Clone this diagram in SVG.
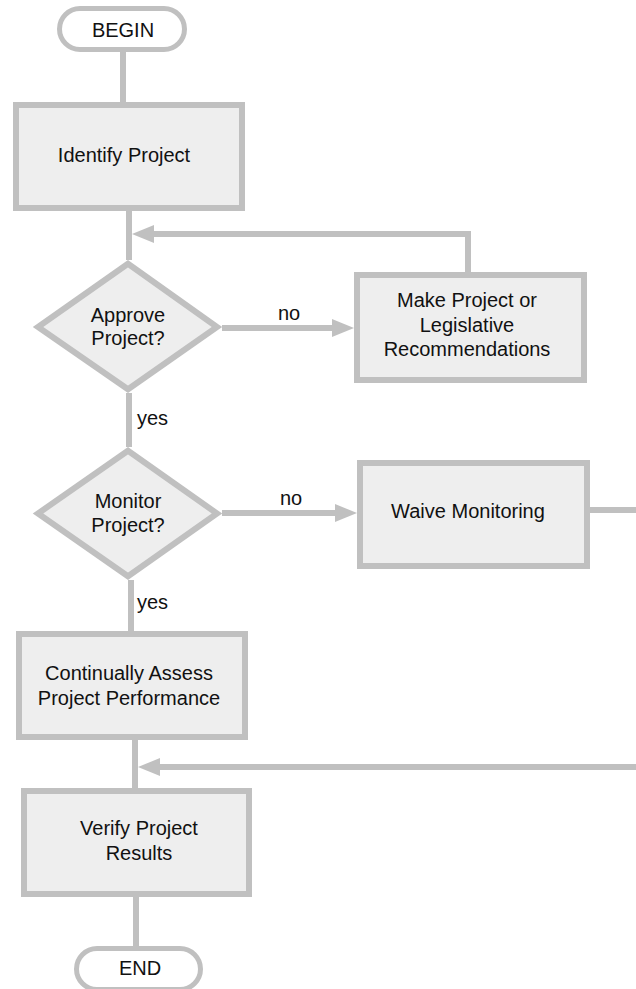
<svg xmlns="http://www.w3.org/2000/svg" width="636" height="989" viewBox="0 0 636 989">
<style>
.box{fill:#eeeeee;stroke:#c0c0c0;stroke-width:6}
.term{fill:#ffffff;stroke:#c0c0c0;stroke-width:5}
.ln{fill:none;stroke:#c0c0c0;stroke-width:6}
text{font-family:"Liberation Sans",Arial,sans-serif;font-size:20px;fill:#111111}
.c{text-anchor:middle}
</style>
<defs>
<marker id="arr" markerUnits="userSpaceOnUse" markerWidth="22" markerHeight="18" refX="14" refY="9" orient="auto">
<path d="M0,0 L22,9 L0,18 z" fill="#c0c0c0"/>
</marker>
</defs>
<rect width="636" height="989" fill="#ffffff"/>
<g id="connectors">
<path class="ln" d="M123,52 V102"/>
<path class="ln" d="M129,211 V260"/>
<path class="ln" d="M129,393 V447"/>
<path class="ln" d="M131,580 V632"/>
<path class="ln" d="M135,740 V788"/>
<path class="ln" d="M136,897 V946"/>
<path class="ln" d="M468,272 V234 H140" marker-end="url(#arr)"/>
<path class="ln" d="M222,328 H346" marker-end="url(#arr)"/>
<path class="ln" d="M222,513 H349" marker-end="url(#arr)"/>
<path class="ln" d="M590,510 H636"/>
<path class="ln" d="M636,767 H146" marker-end="url(#arr)"/>
<text x="289" y="320" class="c">no</text>
<text x="291" y="505" class="c">no</text>
<text x="137" y="425">yes</text>
<text x="137" y="609">yes</text>
</g>
<g id="begin">
<rect class="term" x="59.5" y="8.5" width="125" height="41" rx="20.5"/>
<text x="123" y="37" class="c">BEGIN</text>
</g>
<g id="identify">
<rect class="box" x="16" y="105" width="226" height="103"/>
<text x="124" y="162" class="c">Identify Project</text>
</g>
<g id="approve">
<polygon class="box" points="128,263.7 217,327 128,389.3 38,327"/>
<text x="128" y="322" class="c">Approve</text>
<text x="128" y="345" class="c">Project?</text>
</g>
<g id="recommend">
<rect class="box" x="357" y="275" width="227" height="105"/>
<text x="467" y="307" class="c">Make Project or</text>
<text x="467" y="332" class="c">Legislative</text>
<text x="467" y="356" class="c">Recommendations</text>
</g>
<g id="monitor">
<polygon class="box" points="128,450.7 217,513.5 128,576.3 38,513.5"/>
<text x="128" y="508" class="c">Monitor</text>
<text x="128" y="532" class="c">Project?</text>
</g>
<g id="waive">
<rect class="box" x="360" y="463" width="227" height="103"/>
<text x="468" y="518" class="c">Waive Monitoring</text>
</g>
<g id="assess">
<rect class="box" x="19" y="634" width="226" height="103"/>
<text x="129" y="680" class="c">Continually Assess</text>
<text x="129" y="705" class="c">Project Performance</text>
</g>
<g id="verify">
<rect class="box" x="24" y="791" width="225" height="103"/>
<text x="139" y="835" class="c">Verify Project</text>
<text x="139" y="860" class="c">Results</text>
</g>
<g id="end">
<rect class="term" x="76.5" y="948.5" width="124" height="41" rx="20.5"/>
<text x="140" y="975" class="c">END</text>
</g>
</svg>
